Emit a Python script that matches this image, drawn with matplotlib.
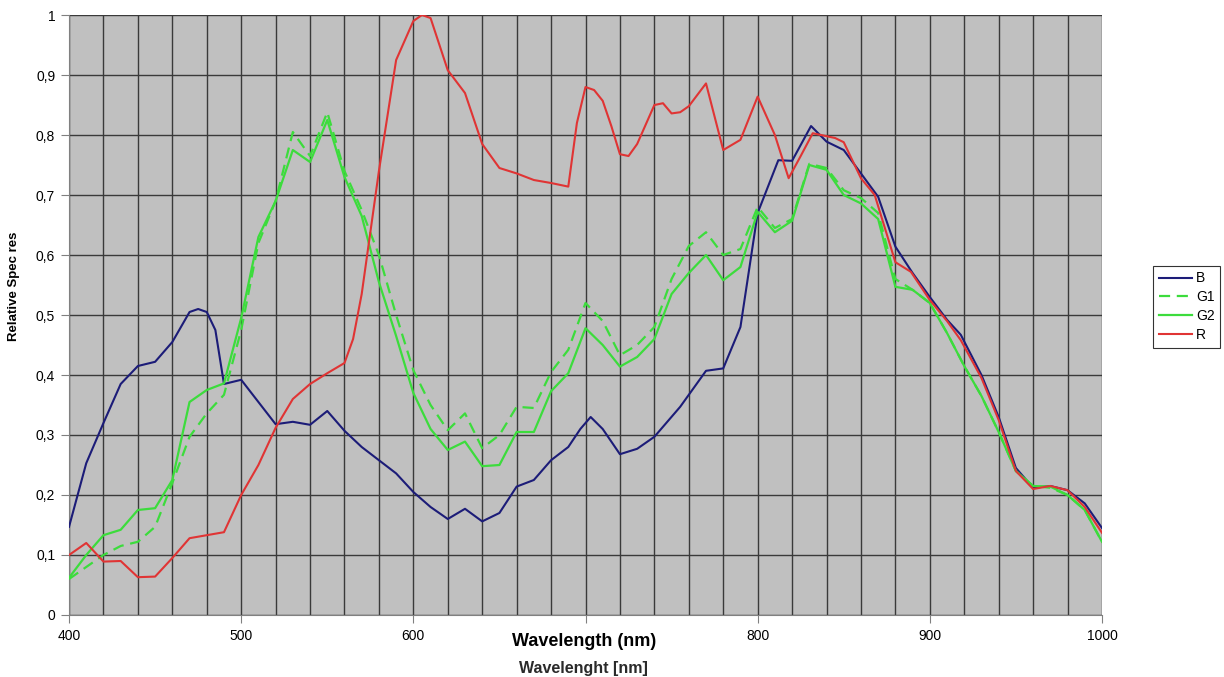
import numpy as np
import matplotlib
matplotlib.use("Agg")
import matplotlib.pyplot as plt
from matplotlib.ticker import FuncFormatter, MultipleLocator

plt.rcParams['font.family'] = ['Liberation Sans', 'DejaVu Sans']

# B channel
wl_b = [400, 410, 420, 430, 440, 450, 460, 470, 475, 480, 485, 490, 500, 510, 520, 530, 540, 550, 560, 570,
        580, 590, 600, 610, 620, 630, 640, 650, 660, 670, 680, 690, 697, 703, 710, 720, 730, 740, 755, 770,
        780, 790, 800, 812, 820, 831, 840, 850, 860, 870, 880, 890, 900, 910, 918, 930, 940, 950, 960, 970,
        980, 990, 1000]
b = [0.147, 0.253, 0.32, 0.385, 0.415, 0.422, 0.455, 0.505, 0.51, 0.505, 0.475, 0.385, 0.392, 0.355, 0.318,
     0.322, 0.317, 0.34, 0.307, 0.28, 0.258, 0.236, 0.205, 0.18, 0.16, 0.177, 0.156, 0.17, 0.214, 0.225,
     0.258, 0.28, 0.31, 0.33, 0.31, 0.268, 0.277, 0.297, 0.347, 0.407, 0.411, 0.48, 0.67, 0.758, 0.757,
     0.815, 0.789, 0.775, 0.736, 0.697, 0.614, 0.57, 0.53, 0.492, 0.467, 0.4, 0.33, 0.245, 0.212, 0.215,
     0.208, 0.186, 0.145]

# G1 / G2 channels (same wavelength grid)
wl_g = list(range(400, 1001, 10))
g1 = [0.06, 0.08, 0.1, 0.115, 0.122, 0.147, 0.22, 0.297, 0.336, 0.367,
      0.475, 0.62, 0.69, 0.805, 0.765, 0.838, 0.74, 0.675, 0.6, 0.5,
      0.408, 0.35, 0.308, 0.336, 0.278, 0.3, 0.347, 0.345, 0.405, 0.442,
      0.52, 0.49, 0.433, 0.45, 0.48, 0.56, 0.615, 0.638, 0.6, 0.61,
      0.68, 0.645, 0.66, 0.752, 0.745, 0.708, 0.695, 0.67, 0.56, 0.542,
      0.52, 0.47, 0.415, 0.365, 0.305, 0.24, 0.215, 0.212, 0.2, 0.175, 0.122]
g2 = [0.062, 0.1, 0.133, 0.142, 0.175, 0.178, 0.225, 0.355, 0.375, 0.386,
      0.495, 0.63, 0.69, 0.775, 0.755, 0.825, 0.73, 0.665, 0.555, 0.465,
      0.37, 0.31, 0.275, 0.289, 0.248, 0.25, 0.305, 0.305, 0.373, 0.403,
      0.478, 0.45, 0.414, 0.43, 0.46, 0.535, 0.57, 0.6, 0.558, 0.58,
      0.672, 0.638, 0.657, 0.75, 0.742, 0.7, 0.686, 0.66, 0.547, 0.542,
      0.52, 0.47, 0.415, 0.365, 0.305, 0.24, 0.215, 0.214, 0.2, 0.175, 0.122]

# R channel
wl_r = [400, 410, 420, 430, 440, 450, 460, 470, 480, 490, 500, 510, 520, 530, 540, 550, 560, 565, 570, 580,
        590, 600, 605, 610, 620, 630, 640, 650, 660, 670, 680, 690, 695, 700, 705, 710, 715, 720, 725, 730,
        740, 745, 750, 755, 760, 770, 780, 790, 800, 810, 818, 825, 832, 845, 850, 860, 868, 880, 889, 900,
        910, 918, 930, 940, 950, 960, 970, 980, 990, 1000]
r = [0.1, 0.12, 0.089, 0.09, 0.063, 0.064, 0.095, 0.128, 0.133, 0.138, 0.2, 0.25, 0.312, 0.36, 0.385, 0.403,
     0.42, 0.46, 0.535, 0.74, 0.925, 0.99, 1.0, 0.995, 0.908, 0.87, 0.785, 0.745, 0.736, 0.725, 0.72, 0.714,
     0.82, 0.88, 0.875, 0.857, 0.815, 0.768, 0.765, 0.785, 0.85, 0.853, 0.836, 0.838, 0.848, 0.886, 0.775,
     0.792, 0.864, 0.8, 0.728, 0.765, 0.803, 0.795, 0.788, 0.728, 0.7, 0.588, 0.572, 0.525, 0.49, 0.458,
     0.395, 0.325, 0.24, 0.21, 0.215, 0.208, 0.18, 0.137]


def comma_fmt(v, pos):
    return ('%g' % round(v, 2)).replace('.', ',')


def x_fmt(v, pos):
    # 700 is hidden under the bold axis title in the original
    return '' if round(v) == 700 else '%d' % v


fig = plt.figure(figsize=(12.24, 6.77), dpi=100)
ax = fig.add_axes([0.0564, 0.0916, 0.8439, 0.8862])
ax.set_facecolor('#c0c0c0')

ax.plot(wl_b, b, color='#1c1c78', lw=1.5, label='B', zorder=3)
ax.plot(wl_g, g1, color='#3cdc3c', lw=1.6, ls=(0, (5, 3)), label='G1', zorder=3)
ax.plot(wl_g, g2, color='#3cdc3c', lw=1.6, label='G2', zorder=3)
ax.plot(wl_r, r, color='#e03434', lw=1.5, label='R', zorder=3)

ax.set_xlim(400, 1000)
ax.set_ylim(0, 1)
ax.xaxis.set_major_locator(MultipleLocator(100))
ax.xaxis.set_minor_locator(MultipleLocator(20))
ax.xaxis.set_major_formatter(FuncFormatter(x_fmt))
ax.yaxis.set_major_locator(MultipleLocator(0.1))
ax.yaxis.set_major_formatter(FuncFormatter(comma_fmt))
ax.grid(True, which='both', axis='x', color='#3a3a3a', lw=1, zorder=1)
ax.grid(True, which='major', axis='y', color='#3a3a3a', lw=1, zorder=1)
ax.set_axisbelow(True)
ax.tick_params(which='major', length=6, color='#808080', labelsize=10, pad=4)
ax.tick_params(which='minor', length=0)
for s in ['top', 'right']:
    ax.spines[s].set_visible(False)
for s in ['left', 'bottom']:
    ax.spines[s].set_color('#808080')

ax.set_ylabel('Relative Spec res', fontsize=9.5, fontweight='bold')
ax.yaxis.set_label_coords(-0.047, 0.547)
fig.text(0.477, 1 - 642 / 677, 'Wavelength (nm)', fontsize=13, fontweight='bold', ha='center', va='center')
fig.text(0.477, 1 - 669 / 677, 'Wavelenght [nm]', fontsize=11.5, fontweight='bold', ha='center', va='center',
         color='#2a2a2a')

leg = fig.legend(loc='center left', bbox_to_anchor=(0.942, 0.547), fontsize=10, frameon=True,
                 fancybox=False, edgecolor='black', handlelength=2.4, borderpad=0.4, labelspacing=0.35,
                 handletextpad=0.3, borderaxespad=0)
leg.get_frame().set_linewidth(0.8)

fig.savefig('out.png', dpi=100)
